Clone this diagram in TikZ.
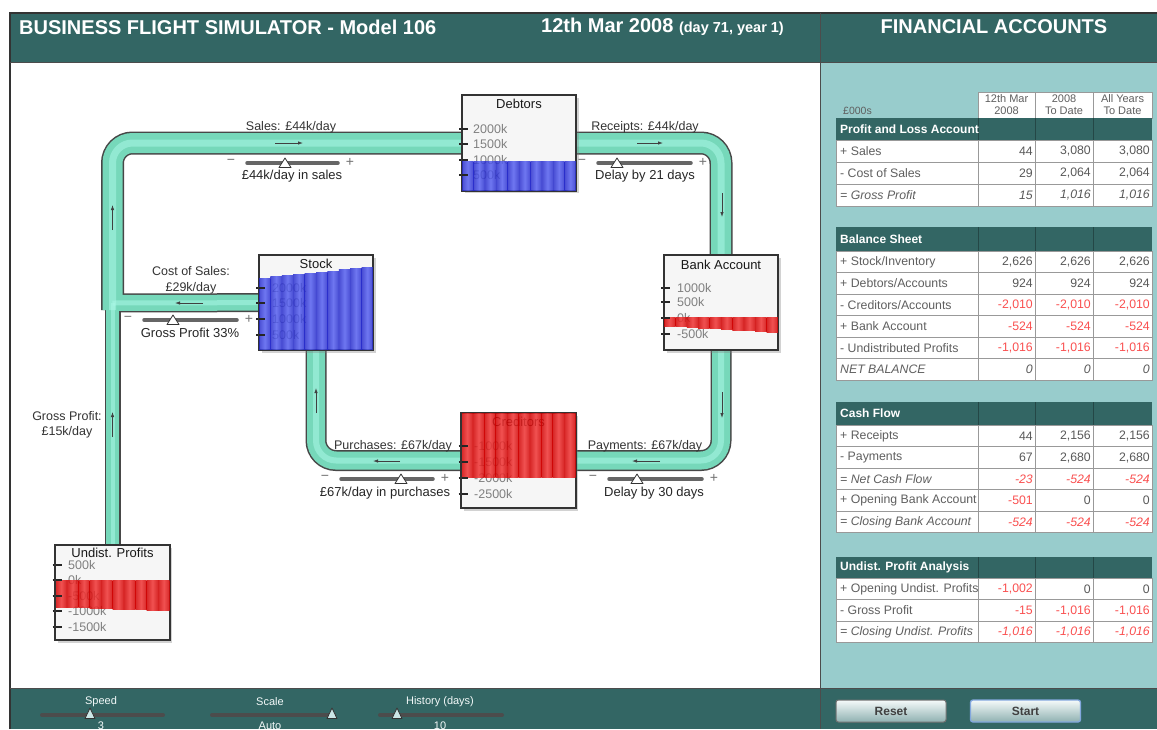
\documentclass[tikz,border=0pt]{standalone}
\usepackage{fontspec}
\setmainfont{Liberation Sans}
\usetikzlibrary{arrows.meta,shadows}

\definecolor{headteal}{RGB}{51,102,100}
\definecolor{panelteal}{RGB}{152,204,204}
\definecolor{pipeteal}{RGB}{118,216,186}
\definecolor{pipelight}{RGB}{170,248,230}
\definecolor{levelblue}{RGB}{40,45,205}
\definecolor{levelbluelt}{RGB}{85,95,240}
\definecolor{levelred}{RGB}{210,5,5}
\definecolor{levelredlt}{RGB}{240,55,55}
\definecolor{valred}{RGB}{250,80,80}
\definecolor{txtgray}{RGB}{95,95,95}

\newcommand{\setsz}[1]{\fontsize{#1}{#1}\selectfont}
\newcommand{\rv}[1]{\textcolor{valred}{#1}}

\pgfdeclarelayer{back}
\pgfdeclarelayer{pipes}
\pgfsetlayers{back,pipes,main}

\tikzset{
	tank/.style={draw=black!80, line width=1.2pt, fill=gray!7, minimum width=114pt, minimum height=95pt, inner sep=0pt,
		drop shadow={shadow xshift=2.5pt, shadow yshift=-2.5pt, opacity=.35}},
	tankedge/.style={draw=black!80, line width=1.2pt},
	tanktitle/.style={font=\setsz{13}, text=black!90, inner sep=0pt},
	ticklab/.style={font=\setsz{12.5}, text=black!50, anchor=west, inner sep=0pt},
	tickmark/.style={line width=1.3pt, draw=black!85},
	bluestripe/.style={left color=levelblue, right color=levelblue, middle color=levelbluelt, opacity=.84},
	redstripe/.style={left color=levelred, right color=levelred, middle color=levelredlt, opacity=.86},
	pipeout/.style={draw=black!72, line width=#1, rounded corners=20pt},
	pipein/.style={draw=pipeteal, line width=#1, rounded corners=20pt},
	pipeshine/.style={draw=pipelight, line width=#1, rounded corners=20pt, opacity=.55},
	flowarrow/.style={draw=black!75, line width=.8pt, -{Latex[length=5pt,width=3.5pt]}},
	flowlab/.style={font=\fontsize{12.5}{15.5}\selectfont, text=black!80, inner sep=0pt, align=center},
	setlab/.style={font=\setsz{13}, text=black!85, inner sep=0pt},
	track/.style={draw=black!60, line width=3.5pt, line cap=round},
	knob/.style={fill=white, draw=black!80, line width=.8pt, line join=round},
	pm/.style={font=\setsz{14}, text=black!55, inner sep=0pt},
	headtxt/.style={font=\bfseries\setsz{20}, text=white, inner sep=0pt},
	colhead/.style={font=\fontsize{11}{12}\selectfont, text=txtgray, align=center, inner sep=0pt},
	cellline/.style={draw=black!40, line width=.8pt},
	headline/.style={draw=headteal!70!black, line width=.8pt},
	secttitle/.style={font=\bfseries\setsz{12}, text=white, anchor=west, inner sep=0pt},
	rowlab/.style={font=\setsz{12.3}, text=txtgray, anchor=west, inner sep=0pt},
	rowval/.style={font=\setsz{12.3}, text=black!65, anchor=east, inner sep=0pt},
	uprow/.style={},
	itrow/.style={font=\setsz{12.3}\itshape},
	ctrllab/.style={font=\setsz{11}, text=white!88!panelteal, inner sep=0pt},
	ctrltrack/.style={draw=black!70, line width=4pt, line cap=round},
	ctrlknob/.style={fill=panelteal!50!white, draw=black!80, line width=.8pt, line join=round},
	btn/.style={rectangle, rounded corners=2.5pt, draw=black!55, line width=1pt, top color=white!90!panelteal,
		bottom color=panelteal!65!gray, minimum width=110pt, minimum height=22pt, font=\bfseries\setsz{12}, text=black!75}
}

\begin{document}
\begin{tikzpicture}[x=1pt,y=-1pt]
	\useasboundingbox (0,0) rectangle (1157,729);
	
	\begin{pgfonlayer}{back}
		\fill[white] (0,0) rectangle (1157,729);
		\fill[headteal] (10,13) rectangle (1157,62);
		\fill[panelteal] (820,62) rectangle (1157,688);
		\fill[headteal] (10,688) rectangle (1157,729);
		\draw[black!80, line width=1.5pt] (10,729) -- (10,13) -- (1157,13);
		\draw[black!70, line width=1pt] (10,62) -- (1157,62);
		\draw[black!70, line width=1pt] (10,688) -- (1157,688);
		\draw[black!70, line width=1pt] (820,13) -- (820,729);
	\end{pgfonlayer}
	
	\node[headtxt, anchor=west] (title) at (19,27) {BUSINESS FLIGHT SIMULATOR - Model 106};
	\node[headtxt, anchor=west] (date) at (541,27) {12th Mar 2008 {\setsz{14.5}(day 71, year 1)}};
	\node[headtxt] (fintitle) at (994,27) {FINANCIAL ACCOUNTS};
	
	% stocks
	\node[tank] (debtors) at (519,143) {};
	\node[tanktitle] (debtorsname) at (519,104) {Debtors};
	\foreach \v/\ty [count=\n] in {2000k/129,1500k/144,1000k/160,500k/175}
		\node[ticklab] (debtors\n) at (473,\ty) {\v};
	\foreach \k in {0,...,9}
		\shade[bluestripe] ({462+11.4*\k},161) rectangle ++(11.4,30);
	\foreach \ty in {129,144,160,175}
		\draw[tickmark] (459,\ty) -- ++(9,0);
	\draw[tankedge] (debtors.north west) rectangle (debtors.south east);
	
	\node[tank] (stock) at (316,302.5) {};
	\node[tanktitle] (stockname) at (316,264) {Stock};
	\foreach \v/\ty [count=\n] in {2000k/288,1500k/303,1000k/319,500k/335}
		\node[ticklab] (stock\n) at (272,\ty) {\v};
	\foreach \k in {0,...,9}
		\shade[bluestripe] ({259+11.4*\k},{278-1.15*\k}) rectangle ({259+11.4*(\k+1)},350);
	\foreach \ty in {288,303,319,335}
		\draw[tickmark] (256,\ty) -- ++(9,0);
	\draw[tankedge] (stock.north west) rectangle (stock.south east);
	
	\node[tank] (bank) at (721,302.5) {};
	\node[tanktitle] (bankname) at (721,265) {Bank Account};
	\foreach \v/\ty [count=\n] in {1000k/288,500k/302,0k/318,-500k/334}
		\node[ticklab] (bank\n) at (677,\ty) {\v};
	\foreach \k in {0,...,9}
		\shade[redstripe] ({664+11.4*\k},317) rectangle ++(11.4,{9+0.7*\k});
	\foreach \ty in {288,302,318,334}
		\draw[tickmark] (661,\ty) -- ++(9,0);
	\draw[tankedge] (bank.north west) rectangle (bank.south east);
	
	\node[tank] (creditors) at (518.5,460.5) {};
	\node[tanktitle] (creditorsname) at (518.5,422) {Creditors};
	\foreach \v/\ty [count=\n] in {-1000k/446,-1500k/462,-2000k/478,-2500k/494}
		\node[ticklab] (creditors\n) at (474,\ty) {\v};
	\foreach \k in {0,...,9}
		\shade[redstripe] ({461.5+11.4*\k},413) rectangle ++(11.4,64.5);
	\foreach \ty in {446,462,478,494}
		\draw[tickmark] (458.5,\ty) -- ++(9,0);
	\draw[tankedge] (creditors.north west) rectangle (creditors.south east);
	
	\node[tank] (undist) at (112.5,592.5) {};
	\node[tanktitle] (undistname) at (112.5,553) {Undist. Profits};
	\foreach \v/\ty [count=\n] in {500k/565,0k/580,-500k/596,-1000k/611,-1500k/627}
		\node[ticklab] (undist\n) at (68,\ty) {\v};
	\foreach \k in {0,...,9}
		\shade[redstripe] ({55.5+11.4*\k},580) rectangle ++(11.4,{27+0.4*\k});
	\foreach \ty in {565,580,596,611,627}
		\draw[tickmark] (52.5,\ty) -- ++(9,0);
	\draw[tankedge] (undist.north west) rectangle (undist.south east);
	
	% pipes
	\coordinate (joint) at (112.5,303);
	\coordinate (jointlow) at (112.5,310);
	\coordinate (bend) at (112.5,143);
	\begin{pgfonlayer}{pipes}
		\draw[pipeout=23pt] (jointlow) -- (bend) -- (debtors) -| (bank);
		\draw[pipeout=21pt] (bank) |- (creditors) -| (stock);
		\draw[pipeout=19pt] (stock) -- (joint);
		\draw[pipeout=16pt] (undist) -- (joint);
		\draw[pipein=20pt] (jointlow) -- (bend) -- (debtors) -| (bank);
		\draw[pipein=18pt] (bank) |- (creditors) -| (stock);
		\draw[pipein=16pt] (stock) -- (joint);
		\draw[pipein=13pt] (undist) -- (joint);
		\draw[pipeshine=7pt] (jointlow) -- (bend) -- (debtors) -| (bank);
		\draw[pipeshine=6pt] (bank) |- (creditors) -| (stock);
		\draw[pipeshine=5pt] (stock) -- (joint);
		\draw[pipeshine=4pt] (undist) -- (joint);
	\end{pgfonlayer}
	
	\draw[flowarrow] (275,143) -- (303,143);
	\draw[flowarrow] (637,143) -- (663,143);
	\draw[flowarrow] (722,193) -- (722,217);
	\draw[flowarrow] (722,392) -- (722,418);
	\draw[flowarrow] (660,461) -- (632,461);
	\draw[flowarrow] (400,461) -- (373,461);
	\draw[flowarrow] (316,413) -- (316,388);
	\draw[flowarrow] (203,303) -- (175,303);
	\draw[flowarrow] (112.5,230) -- (112.5,205);
	\draw[flowarrow] (112.5,437) -- (112.5,412);
	
	\node[flowlab] (saleslab) at (291,127) {Sales: £44k/day};
	\node[flowlab] (receiptslab) at (645,127) {Receipts: £44k/day};
	\node[flowlab] (costlab) at (191,280.5) {Cost of Sales:\\£29k/day};
	\node[flowlab] (gplab) at (67,425) {Gross Profit:\\£15k/day};
	\node[flowlab] (purchlab) at (393,446) {Purchases: £67k/day};
	\node[flowlab] (paylab) at (645,446) {Payments: £67k/day};
	
	% sliders
	\foreach \nm/\xa/\xb/\xk/\sy in {sales/247/338/285/163, receipts/598/691/617/163, margin/144/237/173/320,
		purch/341/433/401/479, pay/609/702/637/479}{
		\draw[track] (\xa,\sy) -- (\xb,\sy);
		\node[pm] (\nm minus) at ({\xa-16},{\sy-1}) {\char"2212};
		\node[pm] (\nm plus) at ({\xb+12},{\sy-1}) {+};
		\filldraw[knob] (\xk,{\sy-5}) -- ({\xk+6},{\sy+4.5}) -- ({\xk-6},{\sy+4.5}) -- cycle;
	}
	\node[setlab] (salesset) at (292,176) {£44k/day in sales};
	\node[setlab] (receiptset) at (645,176) {Delay by 21 days};
	\node[setlab] (marginset) at (190,333) {Gross Profit 33\%};
	\node[setlab] (purchset) at (385,493) {£67k/day in purchases};
	\node[setlab] (payset) at (654,493) {Delay by 30 days};
	
	% accounts
	\node[rowlab, font=\setsz{10.5}] (unit) at (843,111) {£000s};
	\draw[cellline, fill=white] (978,92) rectangle (1035,118);
	\draw[cellline, fill=white] (1035,92) rectangle (1093,118);
	\draw[cellline, fill=white] (1093,92) rectangle (1152,118);
	\node[colhead] (colday) at (1006.5,105) {12th Mar\\2008};
	\node[colhead] (colyear) at (1064,105) {2008\\To Date};
	\node[colhead] (colall) at (1122.5,105) {All Years\\To Date};
	
	\fill[headteal] (836,118) rectangle (1152,140);
	\draw[headline] (978,118) -- (978,140) (1035,118) -- (1035,140) (1093,118) -- (1093,140);
	\node[secttitle] (plhead) at (840,129) {Profit and Loss Account};
	\foreach \lab/\va/\vb/\vc/\rs [count=\i from 0] in {
		{+ Sales}/44/{3,080}/{3,080}/uprow,
		{- Cost of Sales}/29/{2,064}/{2,064}/uprow,
		{= Gross Profit}/15/{1,016}/{1,016}/itrow}{
		\draw[cellline, fill=white] (836,{140+22*\i}) rectangle (1152,{162+22*\i});
		\draw[cellline] (978,{140+22*\i}) -- ++(0,22) (1035,{140+22*\i}) -- ++(0,22) (1093,{140+22*\i}) -- ++(0,22);
		\node[rowlab,\rs] (pl\i) at (840,{151+22*\i}) {\lab};
		\node[rowval,\rs] (pl\i-a) at (1033,{151+22*\i}) {\va};
		\node[rowval,\rs] (pl\i-b) at (1091,{151+22*\i}) {\vb};
		\node[rowval,\rs] (pl\i-c) at (1150,{151+22*\i}) {\vc};
	}
	
	\fill[headteal] (836,227) rectangle (1152,251);
	\draw[headline] (978,227) -- (978,251) (1035,227) -- (1035,251) (1093,227) -- (1093,251);
	\node[secttitle] (bshead) at (840,239) {Balance Sheet};
	\foreach \lab/\va/\vb/\vc/\rs [count=\i from 0] in {
		{+ Stock/Inventory}/{2,626}/{2,626}/{2,626}/uprow,
		{+ Debtors/Accounts}/924/924/924/uprow,
		{- Creditors/Accounts}/{\rv{-2,010}}/{\rv{-2,010}}/{\rv{-2,010}}/uprow,
		{+ Bank Account}/{\rv{-524}}/{\rv{-524}}/{\rv{-524}}/uprow,
		{- Undistributed Profits}/{\rv{-1,016}}/{\rv{-1,016}}/{\rv{-1,016}}/uprow,
		{NET BALANCE}/0/0/0/itrow}{
		\draw[cellline, fill=white] (836,{251+21.5*\i}) rectangle (1152,{272.5+21.5*\i});
		\draw[cellline] (978,{251+21.5*\i}) -- ++(0,21.5) (1035,{251+21.5*\i}) -- ++(0,21.5) (1093,{251+21.5*\i}) -- ++(0,21.5);
		\node[rowlab,\rs] (bs\i) at (840,{262+21.5*\i}) {\lab};
		\node[rowval,\rs] (bs\i-a) at (1033,{262+21.5*\i}) {\va};
		\node[rowval,\rs] (bs\i-b) at (1091,{262+21.5*\i}) {\vb};
		\node[rowval,\rs] (bs\i-c) at (1150,{262+21.5*\i}) {\vc};
	}
	
	\fill[headteal] (836,402) rectangle (1152,425);
	\draw[headline] (978,402) -- (978,425) (1035,402) -- (1035,425) (1093,402) -- (1093,425);
	\node[secttitle] (cfhead) at (840,413.5) {Cash Flow};
	\foreach \lab/\va/\vb/\vc/\rs [count=\i from 0] in {
		{+ Receipts}/44/{2,156}/{2,156}/uprow,
		{- Payments}/67/{2,680}/{2,680}/uprow,
		{= Net Cash Flow}/{\rv{-23}}/{\rv{-524}}/{\rv{-524}}/itrow,
		{+ Opening Bank Account}/{\rv{-501}}/0/0/uprow,
		{= Closing Bank Account}/{\rv{-524}}/{\rv{-524}}/{\rv{-524}}/itrow}{
		\draw[cellline, fill=white] (836,{425+21.5*\i}) rectangle (1152,{446.5+21.5*\i});
		\draw[cellline] (978,{425+21.5*\i}) -- ++(0,21.5) (1035,{425+21.5*\i}) -- ++(0,21.5) (1093,{425+21.5*\i}) -- ++(0,21.5);
		\node[rowlab,\rs] (cf\i) at (840,{436+21.5*\i}) {\lab};
		\node[rowval,\rs] (cf\i-a) at (1033,{436+21.5*\i}) {\va};
		\node[rowval,\rs] (cf\i-b) at (1091,{436+21.5*\i}) {\vb};
		\node[rowval,\rs] (cf\i-c) at (1150,{436+21.5*\i}) {\vc};
	}
	
	\fill[headteal] (836,557) rectangle (1152,578);
	\draw[headline] (978,557) -- (978,578) (1035,557) -- (1035,578) (1093,557) -- (1093,578);
	\node[secttitle] (uphead) at (840,567.5) {Undist. Profit Analysis};
	\foreach \lab/\va/\vb/\vc/\rs [count=\i from 0] in {
		{+ Opening Undist. Profits}/{\rv{-1,002}}/0/0/uprow,
		{- Gross Profit}/{\rv{-15}}/{\rv{-1,016}}/{\rv{-1,016}}/uprow,
		{= Closing Undist. Profits}/{\rv{-1,016}}/{\rv{-1,016}}/{\rv{-1,016}}/itrow}{
		\draw[cellline, fill=white] (836,{578+21.5*\i}) rectangle (1152,{599.5+21.5*\i});
		\draw[cellline] (978,{578+21.5*\i}) -- ++(0,21.5) (1035,{578+21.5*\i}) -- ++(0,21.5) (1093,{578+21.5*\i}) -- ++(0,21.5);
		\node[rowlab,\rs] (up\i) at (840,{589+21.5*\i}) {\lab};
		\node[rowval,\rs] (up\i-a) at (1033,{589+21.5*\i}) {\va};
		\node[rowval,\rs] (up\i-b) at (1091,{589+21.5*\i}) {\vb};
		\node[rowval,\rs] (up\i-c) at (1150,{589+21.5*\i}) {\vc};
	}
	
	% controls
	\foreach \nm/\lab/\val/\xa/\xb/\xk/\xt in {speed/Speed/3/42/163/90/101, scale/Scale/Auto/212/334/332/270,
		history/History (days)/10/380/502/397/440}{
		\node[ctrllab] (\nm) at (\xt,702) {\lab};
		\draw[ctrltrack] (\xa,715) -- (\xb,715);
		\filldraw[ctrlknob] (\xk,708) -- ({\xk+5},718.5) -- ({\xk-5},718.5) -- cycle;
		\node[ctrllab] (\nm val) at (\xt,726) {\val};
	}
	\node[btn] (reset) at (891,711) {Reset};
	\node[btn, draw=cyan!50!blue!50!white, line width=1.3pt] (start) at (1025.5,711) {Start};
\end{tikzpicture}
\end{document}
